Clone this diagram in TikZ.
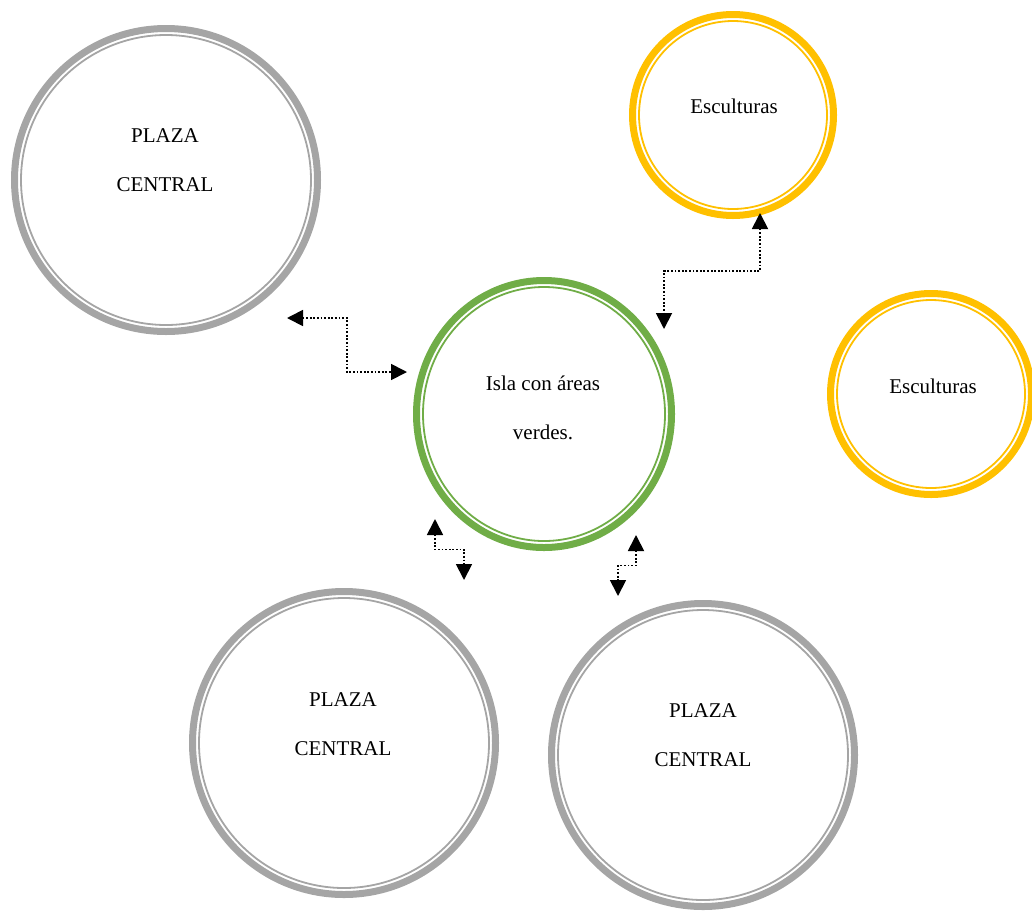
\documentclass[tikz,border=0pt]{standalone}
\usepackage{fontspec}
\setmainfont{Liberation Serif}
\usetikzlibrary{arrows.meta,calc,shapes.geometric}
\definecolor{ringgray}{HTML}{A5A5A5}
\definecolor{ringgreen}{HTML}{70AD47}
\definecolor{ringgold}{HTML}{FFC000}

\begin{document}
\begin{tikzpicture}
    \newlength{\px}
    \setlength{\px}{1pt}
    \tikzset{
        ring/.style={ellipse,draw,line width=7\px,inner sep=0pt},
        innerring/.style={line width=1.8\px},
        txt/.style={font=\fontsize{21}{49}\selectfont,align=center,inner sep=0pt},
        link/.style={line width=1.8pt,dash pattern=on 1.8pt off 1.8pt,
            {Triangle[length=16pt,width=16pt]}-{Triangle[length=16pt,width=16pt]}}
    }
    \useasboundingbox (0\px,0\px) rectangle (1032\px,-911\px);
    % Plaza central (top left)
    \node[ring,draw=ringgray,minimum size=303\px] (plazaNW) at (166\px,-180\px) {};
        \draw[innerring,ringgray] (plazaNW.center) circle (145\px);
    \node[txt] (plazaNWt) at (165\px,-160\px) {PLAZA\\CENTRAL};
    % Isla
    \node[ring,draw=ringgreen,minimum width=255\px,minimum height=267\px] (isla) at (544\px,-414\px) {};
        \draw[innerring,ringgreen] (isla.center) circle [x radius=121\px,y radius=127\px];
    \node[txt] (islat) at (543\px,-408\px) {Isla con áreas\\verdes.};
    % Esculturas
    \node[ring,draw=ringgold,minimum size=201\px] (escN) at (733\px,-115\px) {};
        \draw[innerring,ringgold] (escN.center) circle (94\px);
    \node[txt] (escNt) at (734\px,-106\px) {Esculturas};
    \node[ring,draw=ringgold,minimum size=201\px] (escE) at (931\px,-394\px) {};
        \draw[innerring,ringgold] (escE.center) circle (94\px);
    \node[txt] (escEt) at (933\px,-386\px) {Esculturas};
    % Plaza central (bottom)
    \node[ring,draw=ringgray,minimum size=303\px] (plazaSW) at (344\px,-743\px) {};
        \draw[innerring,ringgray] (plazaSW.center) circle (145\px);
    \node[txt] (plazaSWt) at (343\px,-724\px) {PLAZA\\CENTRAL};
    \node[ring,draw=ringgray,minimum size=303\px] (plazaSE) at (703\px,-755\px) {};
        \draw[innerring,ringgray] (plazaSE.center) circle (145\px);
    \node[txt] (plazaSEt) at (703\px,-735\px) {PLAZA\\CENTRAL};
    % Links
    \coordinate (l1a) at (287\px,-318\px);
    \coordinate (l1b) at (407\px,-372\px);
    \draw[link] (l1a) -| ($(l1a)!.5!(l1b)$) |- (l1b);
    \coordinate (l2a) at (760\px,-213\px);
    \coordinate (l2b) at (664\px,-329\px);
    \draw[link] (l2a) |- ($(l2a)!.5!(l2b)$) -| (l2b);
    \coordinate (l3a) at (435\px,-519\px);
    \coordinate (l3b) at (464\px,-580\px);
    \draw[link] (l3a) |- ($(l3a)!.5!(l3b)$) -| (l3b);
    \coordinate (l4a) at (636\px,-535\px);
    \coordinate (l4b) at (618\px,-596\px);
    \draw[link] (l4a) |- ($(l4a)!.5!(l4b)$) -| (l4b);
\end{tikzpicture}
\end{document}
